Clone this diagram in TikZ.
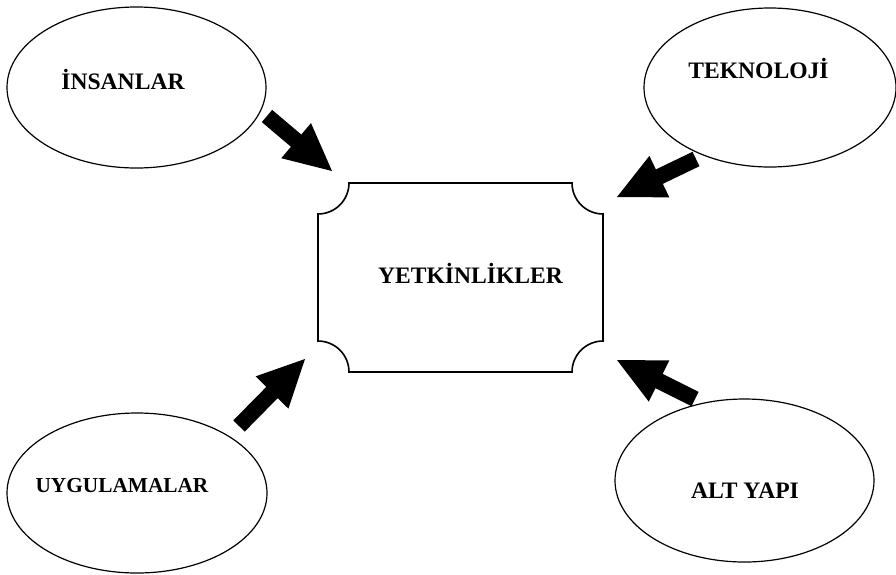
\documentclass[tikz,border=0pt]{standalone}
\usepackage{fontspec}
\setmainfont{Liberation Serif}
\usetikzlibrary{calc,shapes.geometric}
\newcommand{\blockarrow}[2]{%
  \path ($(#2)!47pt!(#1)$) coordinate (ba);
  \fill[black] ($(#1)!8pt!90:(#2)$) -- ($(ba)!8pt!-90:(#1)$) -- ($(ba)!23pt!-90:(#1)$) -- (#2)
    -- ($(ba)!23pt!90:(#1)$) -- ($(ba)!8pt!90:(#1)$) -- ($(#1)!8pt!-90:(#2)$) -- cycle;
}
\tikzset{
  oval/.style={ellipse, draw=black, line width=1.2pt, inner sep=0pt},
  lbl/.style={anchor=base, inner sep=0pt, font=\bfseries\fontsize{23.6}{28}\selectfont},
  lblsmall/.style={anchor=base, inner sep=0pt, font=\bfseries\fontsize{21.3}{26}\selectfont},
  frame/.style={draw=black, line width=1.6pt}
}
\begin{document}
\begin{tikzpicture}[x=1pt,y=-1pt]
\useasboundingbox (0,0) rectangle (896,574);
\fill[white] (0,0) rectangle (896,574);
% ellipses
\node[oval, minimum width=259pt, minimum height=161pt] (e1) at (136.5,87.5) {};
\node[oval, minimum width=252pt, minimum height=159pt] (e2) at (770,87.5) {};
\node[oval, minimum width=260pt, minimum height=160pt] (e3) at (137,493) {};
\node[oval, minimum width=259pt, minimum height=163pt] (e4) at (744.5,480.5) {};
% labels
\node[lbl] (t1) at (123,89) {İNSANLAR};
\node[lbl] (t2) at (758.5,78) {TEKNOLOJİ};
\node[lblsmall] (t3) at (122,492) {UYGULAMALAR};
\node[lbl] (t4) at (745,498) {ALT YAPI};
% central frame
\draw[frame] (349,183) -- (572,183) .. controls (572,200.1) and (585.9,214) .. (603,214)
  -- (603,341) .. controls (585.9,341) and (572,354.9) .. (572,372)
  -- (349,372) .. controls (349,354.9) and (335.1,341) .. (318,341)
  -- (318,214) .. controls (335.1,214) and (349,200.1) .. (349,183) -- cycle;
\node[lbl] (yetk) at (470.5,283) {YETKİNLİKLER};
% arrows
\coordinate (a1s) at (267,116); \coordinate (a1e) at (332,171);
\coordinate (a2s) at (696,159); \coordinate (a2e) at (617,197);
\coordinate (a3s) at (239,426); \coordinate (a3e) at (305,359);
\coordinate (a4s) at (695,399); \coordinate (a4e) at (617,360);
\blockarrow{a1s}{a1e}
\blockarrow{a2s}{a2e}
\blockarrow{a3s}{a3e}
\blockarrow{a4s}{a4e}
\end{tikzpicture}
\end{document}
